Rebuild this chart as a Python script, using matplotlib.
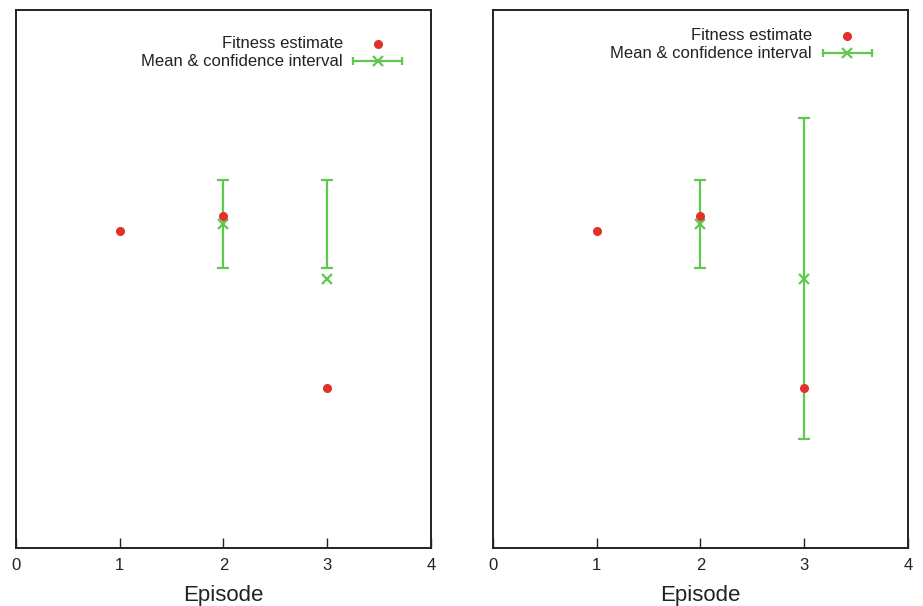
"""
Fitness estimates against the running mean and its confidence interval,
one panel per interval method.
"""
import matplotlib
matplotlib.use('Agg')
import matplotlib.pyplot as plt
from matplotlib.lines import Line2D

# ======================================================================================================================
# Data (arbitrary fitness units, axis is unlabelled)
EPISODES = [1, 2, 3]
FITNESS = [0.589, 0.617, 0.297]

MEAN_EPISODES = [2, 3]
MEAN = [0.602, 0.500]
# interval bounds per panel: (low, high) per episode
CI_LOW_LEFT = [0.520, 0.520]
CI_HIGH_LEFT = [0.684, 0.684]
CI_LOW_RIGHT = [0.520, 0.203]
CI_HIGH_RIGHT = [0.684, 0.799]

X_TICKS = [0, 1, 2, 3, 4]
LABEL_FIT = 'Fitness estimate'
LABEL_MEAN = 'Mean & confidence interval'

RED = '#e2302a'
GREEN = '#5ec94c'
FRAME = '#222222'

plt.rcParams['font.family'] = ['Liberation Sans', 'DejaVu Sans']


# ======================================================================================================================
def drawKey(ax, textX, rowY, symX, barX0, barX1):
    """Gnuplot-style key: right aligned text, sample to its right."""
    tr = ax.transAxes
    ax.text(textX, rowY[0], LABEL_FIT, transform=tr, ha='right', va='center', fontsize=12, color='#222222')
    ax.text(textX, rowY[1], LABEL_MEAN, transform=tr, ha='right', va='center', fontsize=12, color='#222222')
    ax.add_line(Line2D([symX], [rowY[0]], transform=tr, marker='o', markersize=5.5,
                       color=RED, linestyle='none'))
    ax.add_line(Line2D([barX0, barX1], [rowY[1], rowY[1]], transform=tr, color=GREEN, lw=1.6))
    for bx in (barX0, barX1):
        ax.add_line(Line2D([bx], [rowY[1]], transform=tr, marker='|', markersize=6,
                           markeredgewidth=1.6, color=GREEN, linestyle='none'))
    ax.add_line(Line2D([symX], [rowY[1]], transform=tr, marker='x', markersize=6.5,
                       markeredgewidth=1.6, color=GREEN, linestyle='none'))


def drawPanel(ax, ciLow, ciHigh):
    centre = [(lo + hi) / 2 for lo, hi in zip(ciLow, ciHigh)]
    half = [(hi - lo) / 2 for lo, hi in zip(ciLow, ciHigh)]
    ax.errorbar(MEAN_EPISODES, centre, yerr=half, fmt='none', ecolor=GREEN,
                elinewidth=1.6, capsize=4, capthick=1.6, zorder=2)
    ax.plot(MEAN_EPISODES, MEAN, linestyle='none', marker='x', markersize=6.5,
            markeredgewidth=1.6, color=GREEN, zorder=3)
    ax.plot(EPISODES, FITNESS, linestyle='none', marker='o', markersize=5.5,
            color=RED, zorder=4)

    ax.set_xlim(X_TICKS[0], X_TICKS[-1])
    ax.set_ylim(0, 1)
    ax.set_xticks(X_TICKS)
    ax.set_xticklabels([str(t) for t in X_TICKS])
    ax.set_yticks([])
    ax.tick_params(axis='x', direction='in', length=7, width=1.0, color=FRAME,
                   labelsize=12, pad=7.5, labelcolor='#222222')
    for spine in ax.spines.values():
        spine.set_linewidth(1.4)
        spine.set_color(FRAME)
    ax.set_xlabel('Episode', fontsize=16, labelpad=8, color='#222222')


# ======================================================================================================================
fig = plt.figure(figsize=(9.23, 6.06), dpi=100)
axLeft = fig.add_axes([0.0173, 0.0957, 0.4496, 0.8878])
axRight = fig.add_axes([0.5341, 0.0957, 0.4496, 0.8878])

drawPanel(axLeft, CI_LOW_LEFT, CI_HIGH_LEFT)
drawPanel(axRight, CI_LOW_RIGHT, CI_HIGH_RIGHT)

drawKey(axLeft, 0.788, (0.937, 0.905), 0.872, 0.812, 0.930)
drawKey(axRight, 0.769, (0.952, 0.920), 0.853, 0.795, 0.913)

fig.savefig('out.png', dpi=100)
